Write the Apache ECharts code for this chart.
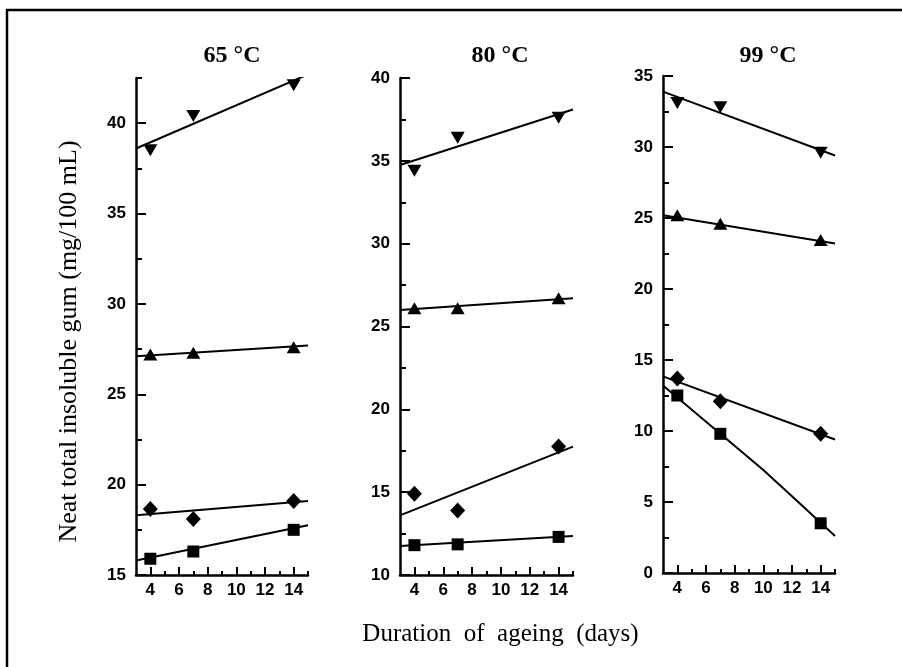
<!DOCTYPE html>
<html>
<head>
<meta charset="utf-8">
<script src="https://cdn.jsdelivr.net/npm/echarts@6/dist/echarts.min.js"></script>
<style>
  html, body { margin: 0; padding: 0; background: #fff; }
  #chart { width: 902px; height: 667px; }
</style>
</head>
<body>
<div id="chart"></div>
<script>
// Gum formation vs ageing time, three temperatures

const days = [4, 7, 14];
const fitDays = [3, 15];

// 65 °C
const t65Down = [38.5, 40.4, 42.1];
const t65Up = [27.2, 27.3, 27.6];
const t65Diamond = [18.65, 18.1, 19.1];
const t65Square = [15.9, 16.3, 17.5];
const t65DownFit = [38.6, 42.7];
const t65UpFit = [27.1, 27.7];
const t65DiamondFit = [18.3, 19.1];
const t65SquareFit = [15.8, 17.75];

// 80 °C
const t80Down = [34.4, 36.4, 37.6];
const t80Up = [26.1, 26.1, 26.7];
const t80Diamond = [14.9, 13.9, 17.75];
const t80Square = [11.8, 11.85, 12.3];
const t80DownFit = [34.75, 38.1];
const t80UpFit = [26.0, 26.7];
const t80DiamondFit = [13.6, 17.75];
const t80SquareFit = [11.75, 12.35];

// 99 °C
const t99Down = [33.1, 32.8, 29.6];
const t99Up = [25.2, 24.6, 23.45];
const t99Diamond = [13.7, 12.1, 9.8];
const t99Square = [12.5, 9.8, 3.5];
const t99DownFit = [33.9, 29.4];
const t99UpFit = [25.2, 23.2];
const t99DiamondFit = [13.85, 9.4];
const t99SquareCurveDays = [3, 7, 10, 12, 15];
const t99SquareCurve = [13.2, 9.8, 7.25, 5.4, 2.6];

// axes
const xLabels = [4, 6, 8, 10, 12, 14];
const xMinor = [5, 7, 9, 11, 13, 15];
const yMajor65 = [15, 20, 25, 30, 35, 40];
const yMinor65 = [17.5, 22.5, 27.5, 32.5, 37.5, 42.5];
const yMajor80 = [10, 15, 20, 25, 30, 35, 40];
const yMinor80 = [12.5, 17.5, 22.5, 27.5, 32.5, 37.5];
const yMajor99 = [0, 5, 10, 15, 20, 25, 30, 35];
const yMinor99 = [2.5, 7.5, 12.5, 17.5, 22.5, 27.5, 32.5];

const titles = ['65 °C', '80 °C', '99 °C'];

const panels = [
  { grid: { left: 136, top: 78, width: 172, height: 497 }, yMin: 15, yMax: 42.5, major: yMajor65, minor: yMinor65,
    pts: [t65Down, t65Up, t65Diamond, t65Square],
    fits: [[fitDays, t65DownFit], [fitDays, t65UpFit], [fitDays, t65DiamondFit], [fitDays, t65SquareFit]] },
  { grid: { left: 400, top: 78, width: 173, height: 497 }, yMin: 10, yMax: 40, major: yMajor80, minor: yMinor80,
    pts: [t80Down, t80Up, t80Diamond, t80Square],
    fits: [[fitDays, t80DownFit], [fitDays, t80UpFit], [fitDays, t80DiamondFit], [fitDays, t80SquareFit]] },
  { grid: { left: 663, top: 76, width: 172, height: 497 }, yMin: 0, yMax: 35, major: yMajor99, minor: yMinor99,
    pts: [t99Down, t99Up, t99Diamond, t99Square],
    fits: [[fitDays, t99DownFit], [fitDays, t99UpFit], [fitDays, t99DiamondFit], [t99SquareCurveDays, t99SquareCurve]] },
];

const MARKERS = [
  { symbol: 'triangle', size: [14, 12], rotate: 180 },
  { symbol: 'triangle', size: [14, 12], rotate: 0 },
  { symbol: 'diamond', size: [15, 16], rotate: 0 },
  { symbol: 'rect', size: [12, 12], rotate: 0 },
];

const tickFont = { color: '#000', fontFamily: 'Liberation Sans', fontWeight: 'bold', fontSize: 17 };
const axisLine = { show: true, lineStyle: { color: '#000', width: 2.5 } };

const grids = [], xAxes = [], yAxes = [], series = [];

panels.forEach((p, i) => {
  grids.push(p.grid);
  // main x axis (long ticks + labels)
  xAxes.push({
    type: 'value', gridIndex: i, position: 'bottom', min: 3, max: 15,
    axisLine, splitLine: { show: false },
    axisTick: { show: true, inside: true, length: 8, customValues: xLabels, lineStyle: { color: '#000', width: 2 } },
    axisLabel: { ...tickFont, margin: 7, customValues: xLabels },
    name: i === 1 ? 'Duration  of  ageing  (days)' : '',
    nameLocation: 'middle', nameGap: 47,
    nameTextStyle: { color: '#000', fontFamily: 'Liberation Serif', fontSize: 25, padding: [0, 0, 0, 28] },
  });
  // minor x ticks
  xAxes.push({
    type: 'value', gridIndex: i, position: 'bottom', min: 3, max: 15,
    axisLine: { show: false }, splitLine: { show: false }, axisLabel: { show: false },
    axisTick: { show: true, inside: true, length: 4, customValues: xMinor, lineStyle: { color: '#000', width: 2 } },
  });
  yAxes.push({
    type: 'value', gridIndex: i, position: 'left', min: p.yMin, max: p.yMax,
    axisLine, splitLine: { show: false },
    axisTick: { show: true, inside: true, length: 10, customValues: p.major, lineStyle: { color: '#000', width: 2 } },
    axisLabel: { ...tickFont, margin: 10, customValues: p.major },
    name: i === 0 ? 'Neat total insoluble gum (mg/100 mL)' : '',
    nameLocation: 'middle', nameGap: 54,
    nameTextStyle: { color: '#000', fontFamily: 'Liberation Serif', fontSize: 26, padding: [0, 30, 0, 0] },
  });
  yAxes.push({
    type: 'value', gridIndex: i, position: 'left', min: p.yMin, max: p.yMax,
    axisLine: { show: false }, splitLine: { show: false }, axisLabel: { show: false },
    axisTick: { show: true, inside: true, length: 6, customValues: p.minor, lineStyle: { color: '#000', width: 2 } },
  });

  p.fits.forEach(([xs, ys]) => {
    series.push({
      type: 'line', xAxisIndex: i * 2, yAxisIndex: i * 2, symbol: 'none', silent: true,
      lineStyle: { color: '#000', width: 2 },
      data: xs.map((x, k) => [x, ys[k]]),
    });
  });
  p.pts.forEach((vals, m) => {
    const mk = MARKERS[m];
    series.push({
      type: 'scatter', xAxisIndex: i * 2, yAxisIndex: i * 2,
      symbol: mk.symbol, symbolSize: mk.size, symbolRotate: mk.rotate,
      itemStyle: { color: '#000', opacity: 1 },
      data: days.map((d, k) => [d, vals[k]]),
    });
  });
});

const titleCenters = [227, 495, 763];

const chart = echarts.init(document.getElementById('chart'), null, { renderer: 'canvas' });
chart.setOption({
  animation: false,
  backgroundColor: '#fff',
  title: titles.map((t, i) => ({
    text: t, left: titleCenters[i], top: 39, textAlign: 'center',
    textStyle: { color: '#000', fontFamily: 'Liberation Serif', fontWeight: 'bold', fontSize: 24 },
  })),
  graphic: [{
    type: 'polyline',
    shape: { points: [[7, 667], [7, 10], [902, 10]] },
    style: { stroke: '#000', lineWidth: 2.5, fill: null },
  }],
  grid: grids,
  xAxis: xAxes,
  yAxis: yAxes,
  series,
});
</script>
</body>
</html>
